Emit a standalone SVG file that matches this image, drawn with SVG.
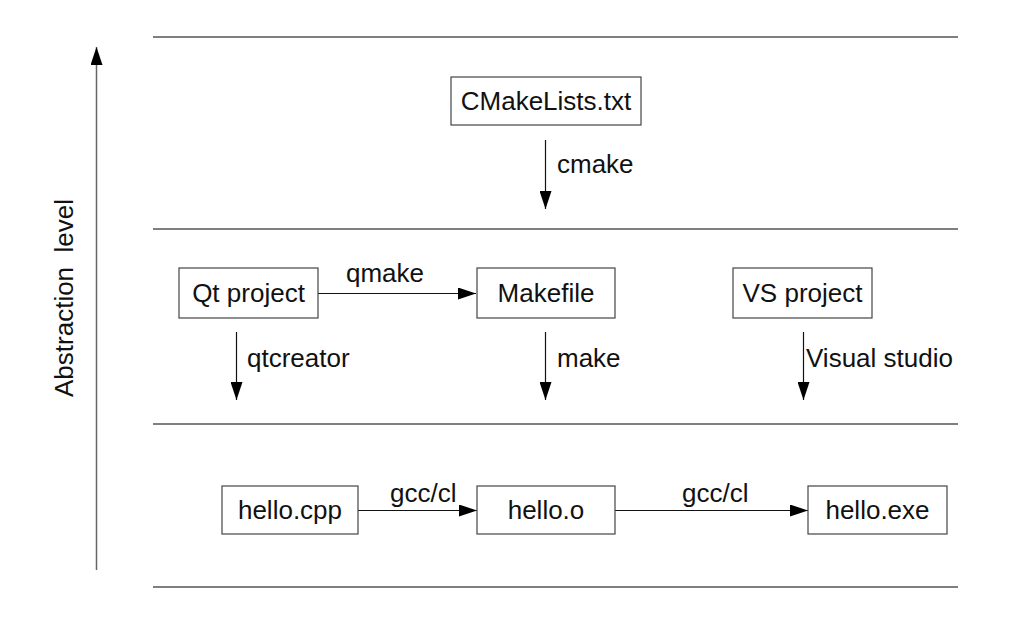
<svg xmlns="http://www.w3.org/2000/svg" width="1021" height="637" viewBox="0 0 1021 637">
<style>
  text { font-family: "Liberation Sans", Arial, sans-serif; font-size: 26px; fill: #111; }
  .box { fill: #fff; stroke: #444; stroke-width: 1.2; }
  .lbl { text-anchor: middle; }
  .conn { stroke: #111; stroke-width: 1.2; fill: none; marker-end: url(#arr); }
  .sep { stroke: #555; stroke-width: 1.5; fill: none; }
  .axis { stroke: #666; stroke-width: 1.5; fill: none; marker-end: url(#arr); }
</style>
<defs>
  <marker id="arr" markerUnits="userSpaceOnUse" markerWidth="18" markerHeight="12" refX="18" refY="6" orient="auto">
    <path d="M0,0 L18,6 L0,12 z" fill="#000"/>
  </marker>
</defs>
<rect width="1021" height="637" fill="#fff"/>

<g id="separators">
  <line class="sep" x1="153" y1="37" x2="958" y2="37"/>
  <line class="sep" x1="153" y1="229" x2="958" y2="229"/>
  <line class="sep" x1="153" y1="424" x2="958" y2="424"/>
  <line class="sep" x1="153" y1="587" x2="958" y2="587"/>
</g>

<g id="axis">
  <line class="axis" x1="96.5" y1="570" x2="96.5" y2="47"/>
  <text x="73" y="298" text-anchor="middle" transform="rotate(-90 73 298)" style="white-space: pre">Abstraction  level</text>
</g>

<g id="connectors">
  <line class="conn" x1="545.5" y1="140" x2="545.5" y2="209"/>
  <line class="conn" x1="318" y1="293.5" x2="476" y2="293.5"/>
  <line class="conn" x1="236.5" y1="332" x2="236.5" y2="400"/>
  <line class="conn" x1="545.5" y1="332" x2="545.5" y2="400"/>
  <line class="conn" x1="803.5" y1="332" x2="803.5" y2="400"/>
  <line class="conn" x1="358" y1="510.5" x2="477" y2="510.5"/>
  <line class="conn" x1="615" y1="510.5" x2="808" y2="510.5"/>
  <text x="557" y="173">cmake</text>
  <text x="346" y="282">qmake</text>
  <text x="247" y="367">qtcreator</text>
  <text x="557" y="367">make</text>
  <text x="806" y="367">Visual studio</text>
  <text x="390" y="502">gcc/cl</text>
  <text x="682" y="502">gcc/cl</text>
</g>

<g id="cmakelists">
  <rect class="box" x="451" y="77" width="190" height="48"/>
  <text class="lbl" x="546" y="110">CMakeLists.txt</text>
</g>
<g id="qtproject">
  <rect class="box" x="179" y="268" width="139" height="50"/>
  <text class="lbl" x="248.5" y="302">Qt project</text>
</g>
<g id="makefile">
  <rect class="box" x="477" y="268" width="138" height="50"/>
  <text class="lbl" x="546" y="302">Makefile</text>
</g>
<g id="vsproject">
  <rect class="box" x="733" y="268" width="139" height="50"/>
  <text class="lbl" x="802.5" y="302">VS project</text>
</g>
<g id="hellocpp">
  <rect class="box" x="222" y="486" width="136" height="48"/>
  <text class="lbl" x="290" y="519">hello.cpp</text>
</g>
<g id="helloo">
  <rect class="box" x="477" y="486" width="138" height="48"/>
  <text class="lbl" x="546" y="519">hello.o</text>
</g>
<g id="helloexe">
  <rect class="box" x="808" y="486" width="139" height="48"/>
  <text class="lbl" x="877.5" y="519">hello.exe</text>
</g>
</svg>
